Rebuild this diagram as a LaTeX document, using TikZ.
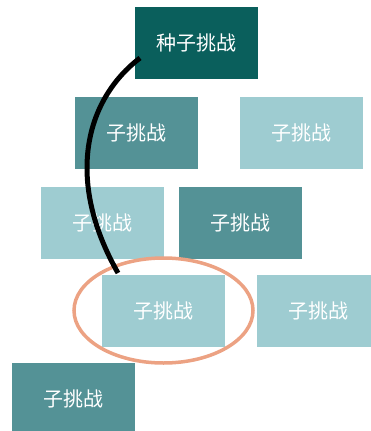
\documentclass[tikz,border=0pt]{standalone}
\usepackage{fontspec}
\usetikzlibrary{shapes.geometric}
\newfontfamily\cjk{Noto Sans CJK SC}
\definecolor{darkteal}{HTML}{0A5F5C}
\definecolor{midteal}{HTML}{549296}
\definecolor{lightteal}{HTML}{9ECCD1}
\definecolor{ringcol}{HTML}{ECA283}
\tikzset{
  box/.style={draw=none, minimum width=123pt, minimum height=72pt, inner sep=0pt,
    text=white, font=\cjk\fontsize{20}{20}\selectfont},
  dbox/.style={box, fill=darkteal},
  mbox/.style={box, fill=midteal},
  lbox/.style={box, fill=lightteal},
  ringstyle/.style={draw=ringcol, line width=3.5pt, ellipse, inner sep=0pt,
    minimum width=179pt, minimum height=105pt},
}
\begin{document}
\begin{tikzpicture}[x=1pt,y=-1pt]
\useasboundingbox (0,0) rectangle (371,431);
\begin{scope}
\clip (0,0) rectangle (371,431);
\node[dbox] (seed) at (196.5,43) {种子挑战};
\node[mbox] (a1) at (136.5,133) {子挑战};
\node[lbox] (a2) at (301.5,133) {子挑战};
\node[lbox] (b1) at (102.5,223) {子挑战};
\node[mbox] (b2) at (240.5,223) {子挑战};
\node[lbox] (c1) at (163.5,311) {子挑战};
\node[lbox] (c2) at (318.5,311) {子挑战};
\node[mbox] (d1) at (73.5,399) {子挑战};
\node[ringstyle] (ring) at (163.5,310.5) {};
\coordinate (cs) at (140,58);
\coordinate (ce) at (118,273);
\draw[black, line width=5pt] (cs) .. controls (85,100) and (65,180) .. (ce);
\end{scope}
\end{tikzpicture}
\end{document}
